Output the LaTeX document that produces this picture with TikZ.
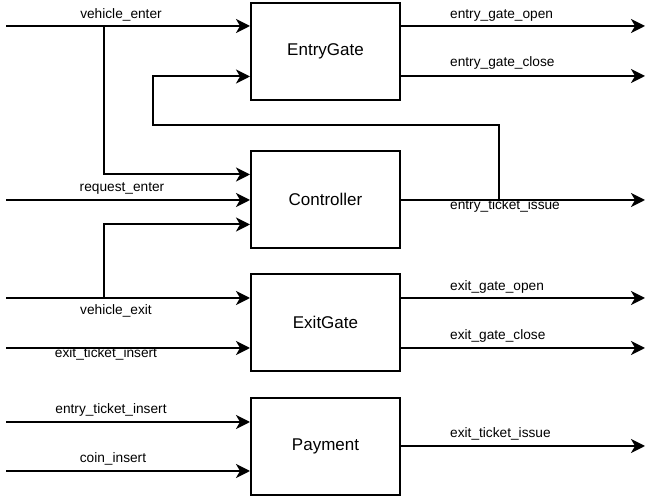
\documentclass[tikz,border=0pt]{standalone}
\usepackage{fontspec}
\setmainfont{Liberation Sans}
\usetikzlibrary{arrows.meta}
\tikzset{
  blk/.style={draw, line width=2pt, minimum width=149pt, minimum height=97pt, font=\fontsize{17}{20}\selectfont},
  sig/.style={line width=2pt, -{Stealth[length=14pt,width=14pt,inset=4pt]}},
  lbl/.style={font=\fontsize{13.7}{16}\selectfont, inner sep=0pt}
}
\begin{document}
\begin{tikzpicture}[x=1pt,y=-1pt]
\useasboundingbox (0,0) rectangle (646,502);
%blocks
\node[blk] (entry) at (325.5,51.5) {EntryGate};
\node[blk] (ctrl) at (325.5,199.5) {Controller};
\node[blk] (exit) at (325.5,322.5) {ExitGate};
\node[blk] (pay) at (325.5,446.5) {Payment};
%entry gate
\coordinate (ve) at (6,26);
\coordinate (egoOut) at (645,26);
\coordinate (egcOut) at (645,76);
\draw[sig] (ve) -- (ve -| entry.west);
\draw[sig] (egoOut -| entry.east) -- (egoOut);
\draw[sig] (egcOut -| entry.east) -- (egcOut);
\node[lbl] (veL) at (121,15) {vehicle\_enter};
\node[lbl, anchor=west] (egoL) at (450,15) {entry\_gate\_open};
\node[lbl, anchor=west] (egcL) at (450,63) {entry\_gate\_close};
%controller
\coordinate (br1) at (104,26);
\coordinate (re) at (6,200);
\coordinate (etiOut) at (645,200);
\coordinate (fb) at (499,200);
\coordinate (fbc) at (153,125);
\draw[sig] (br1) |- ([yshift=25pt]ctrl.west);
\draw[sig] (re) -- (re -| ctrl.west);
\draw[sig] (etiOut -| ctrl.east) -- (etiOut);
\draw[sig] (fb) |- (fbc) |- ([yshift=-25pt]entry.west);
\node[lbl] (reL) at (122,188) {request\_enter};
\node[lbl, anchor=west] (etiL) at (450,206) {entry\_ticket\_issue};
%exit gate
\coordinate (vx) at (6,298);
\coordinate (br2) at (104,298);
\coordinate (xti) at (6,348);
\coordinate (xgoOut) at (645,298);
\coordinate (xgcOut) at (645,348);
\draw[sig] (vx) -- (vx -| exit.west);
\draw[sig] (br2) |- ([yshift=-25pt]ctrl.west);
\draw[sig] (xti) -- (xti -| exit.west);
\draw[sig] (xgoOut -| exit.east) -- (xgoOut);
\draw[sig] (xgcOut -| exit.east) -- (xgcOut);
\node[lbl] (vxL) at (116,311) {vehicle\_exit};
\node[lbl] (xtiL) at (106,354) {exit\_ticket\_insert};
\node[lbl, anchor=west] (xgoL) at (450,287) {exit\_gate\_open};
\node[lbl, anchor=west] (xgcL) at (450,336) {exit\_gate\_close};
%payment
\coordinate (eti) at (6,422);
\coordinate (ci) at (6,471);
\coordinate (xtOut) at (645,446);
\draw[sig] (eti) -- (eti -| pay.west);
\draw[sig] (ci) -- (ci -| pay.west);
\draw[sig] (xtOut -| pay.east) -- (xtOut);
\node[lbl] (etiInL) at (111,410) {entry\_ticket\_insert};
\node[lbl] (ciL) at (113,459) {coin\_insert};
\node[lbl, anchor=west] (xtL) at (450,434) {exit\_ticket\_issue};
\end{tikzpicture}
\end{document}
